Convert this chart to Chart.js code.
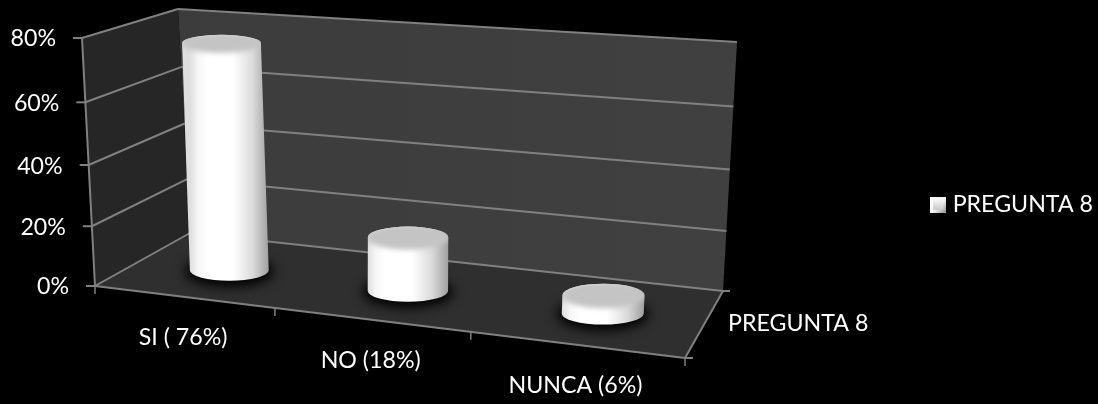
<!DOCTYPE html>
<html>
<head>
<meta charset="utf-8">
<style>
  html, body { margin: 0; padding: 0; background: #000; }
  canvas { display: block; }
</style>
<script src="https://cdn.jsdelivr.net/npm/chart.js@4/dist/chart.umd.min.js"></script>
</head>
<body>
<canvas id="grafico" width="1098" height="404"></canvas>
<script>
const categorias = ["SI ( 76%)", "NO (18%)", "NUNCA (6%)"];
const valores = [76, 18, 6];
const serie = "PREGUNTA 8";
const yMaximo = 80;
const yPaso = 20;

const FUENTE = "Lato, 'Open Sans', sans-serif";
const GRIS = "#808080";

// corners of the 3D box, front/back and bottom/top
const caja = {
  fi0: [95, 286], fd0: [685, 358], ti0: [190, 233], td0: [723, 291],
  fi1: [82, 38], fd1: [703, 83], ti1: [178, 9], td1: [737, 42]
};

function mezcla(a, b, t) {
  return [a[0] + (b[0] - a[0]) * t, a[1] + (b[1] - a[1]) * t];
}

// perspective squeeze along one axis
function perspectiva(t, k) {
  return t / (t + k * (1 - t));
}

// u = along the categories, v = depth, h = height (all 0..1)
function proyectar(u, v, h) {
  const pu = perspectiva(u, 1.14);
  const ph = perspectiva(h, 1.05);
  const abajo = mezcla(mezcla(caja.fi0, caja.fd0, pu), mezcla(caja.ti0, caja.td0, pu), v);
  const arriba = mezcla(mezcla(caja.fi1, caja.fd1, pu), mezcla(caja.ti1, caja.td1, pu), v);
  return mezcla(abajo, arriba, ph);
}

function linea(ctx, a, b, color, ancho) {
  ctx.strokeStyle = color || GRIS;
  ctx.lineWidth = ancho || 2;
  ctx.beginPath();
  ctx.moveTo(a[0], a[1]);
  ctx.lineTo(b[0], b[1]);
  ctx.stroke();
}

function poligono(ctx, puntos, relleno) {
  ctx.fillStyle = relleno;
  ctx.beginPath();
  puntos.forEach((p, i) => i ? ctx.lineTo(p[0], p[1]) : ctx.moveTo(p[0], p[1]));
  ctx.closePath();
  ctx.fill();
}

function dibujarCaja(chart) {
  const ctx = chart.ctx;
  const ys = chart.scales.y;
  const xs = chart.scales.x;
  ctx.save();

  // back wall, left wall, floor
  const fondo = ctx.createLinearGradient(178, 0, 737, 0);
  fondo.addColorStop(0, "#3c3c3c");
  fondo.addColorStop(1, "#404040");
  poligono(ctx, [caja.ti0, caja.td0, caja.td1, caja.ti1], fondo);
  poligono(ctx, [caja.fi0, caja.ti0, caja.ti1, caja.fi1], "#262626");
  poligono(ctx, [caja.fi0, caja.fd0, caja.td0, caja.ti0], "#2f2f2f");

  // gridlines follow the y axis ticks around both walls
  ctx.font = "23.2px " + FUENTE;
  ctx.textBaseline = "middle";
  ctx.textAlign = "right";
  ys.ticks.forEach((tick, i) => {
    const h = (ys.bottom - ys.getPixelForValue(tick.value)) / ys.height;
    const frente = proyectar(0, 0, h);
    const atras = proyectar(0, 1, h);
    const derecha = proyectar(1, 1, h);
    linea(ctx, frente, atras);
    linea(ctx, atras, derecha);
    linea(ctx, [frente[0] - 9, frente[1]], frente);
    ctx.fillStyle = "#fff";
    ctx.fillText(tick.label, frente[0] - 26, frente[1] + 1);
  });
  linea(ctx, caja.fi0, caja.fi1);

  // floor front and right edges with their tick marks
  linea(ctx, caja.fi0, caja.fd0);
  linea(ctx, caja.fd0, caja.td0);
  linea(ctx, caja.td0, [caja.td0[0] + 7, caja.td0[1]]);
  linea(ctx, caja.fd0, [caja.fd0[0] + 8, caja.fd0[1]]);

  const n = categorias.length;
  for (let i = 0; i <= n; i++) {
    const p = proyectar(i / n, 0, 0);
    linea(ctx, p, [p[0], p[1] + 8], GRIS, 1.5);
  }

  // category labels hang below the front edge
  ctx.textAlign = "center";
  ctx.fillStyle = "#fff";
  xs.ticks.forEach((tick, i) => {
    const px = xs.getPixelForValue(i);
    const p = proyectar((px - xs.left) / xs.width, 0, 0);
    ctx.fillText(tick.label, p[0], p[1] + 41);
  });

  // series name beside the depth axis
  const lado = proyectar(1, 0.5, 0);
  ctx.textAlign = "left";
  ctx.fillText(chart.data.datasets[0].label, lado[0] + 24, lado[1] - 1);
  ctx.restore();
}

function elipse(ctx, c, rx, ry) {
  ctx.beginPath();
  ctx.ellipse(c[0], c[1], rx, ry, 0, 0, Math.PI * 2);
}

function dibujarCilindro(chart, el) {
  const ctx = chart.ctx;
  const xs = chart.scales.x;
  const ys = chart.scales.y;
  const u = (el.x - xs.left) / xs.width;
  const d = el.width / xs.width / 2;
  const alto = (ys.bottom - el.y) / ys.height;

  // cylinders sit a touch right of and below mid depth
  const a = proyectar(u, 0.5, 0);
  const b = proyectar(u, 0.5, alto);
  const base = [a[0] + 3, a[1] + 1];
  const tapa = [b[0] + 3, b[1] + 1];
  // width grows gently towards the right
  const rx = (perspectiva(u + d, 1.03) - perspectiva(u - d, 1.03)) * 561 / 2;
  const ryBase = rx * 0.27;
  const ryTapa = rx * (0.28 - 0.08 * alto);

  // soft dark shadow on the floor
  ctx.save();
  ctx.filter = "blur(6px)";
  ctx.fillStyle = "#000";
  elipse(ctx, [base[0], base[1] + 1], rx + 5, ryBase + 5);
  ctx.fill();
  ctx.restore();

  // body
  const cuerpo = new Path2D();
  cuerpo.moveTo(tapa[0] - rx, tapa[1]);
  cuerpo.lineTo(base[0] - rx, base[1]);
  cuerpo.ellipse(base[0], base[1], rx, ryBase, 0, Math.PI, 0, true);
  cuerpo.lineTo(tapa[0] + rx, tapa[1]);
  cuerpo.ellipse(tapa[0], tapa[1], rx, ryTapa, 0, 0, Math.PI, true);
  cuerpo.closePath();

  const lados = ctx.createLinearGradient(base[0] - rx, 0, base[0] + rx, 0);
  lados.addColorStop(0, "#dedede");
  lados.addColorStop(0.1, "#f6f6f6");
  lados.addColorStop(0.22, "#ffffff");
  lados.addColorStop(0.55, "#ffffff");
  lados.addColorStop(0.8, "#dadada");
  lados.addColorStop(1, "#a0a0a0");
  ctx.fillStyle = lados;
  ctx.fill(cuerpo);

  // flat grey top melting into the rounded rim
  ctx.save();
  ctx.clip(cuerpo);
  ctx.filter = "blur(2.5px)";
  ctx.fillStyle = "#c4c4c4";
  elipse(ctx, tapa, rx + 2, ryTapa + 2);
  ctx.fill();
  ctx.restore();
}

// little bevelled square for the legend
function cuadroLeyenda() {
  const c = document.createElement("canvas");
  c.width = 16;
  c.height = 16;
  const g = c.getContext("2d");
  const grad = g.createLinearGradient(0, 0, 16, 16);
  grad.addColorStop(0, "#ffffff");
  grad.addColorStop(0.55, "#f2f2f2");
  grad.addColorStop(1, "#8c8c8c");
  g.fillStyle = grad;
  g.fillRect(0, 0, 16, 16);
  const centro = g.createLinearGradient(0, 3, 0, 13);
  centro.addColorStop(0, "#f4f4f4");
  centro.addColorStop(1, "#c8c8c8");
  g.fillStyle = centro;
  g.fillRect(3, 3, 10, 10);
  return c;
}

const caja3d = {
  id: "caja3d",
  beforeDatasetsDraw(chart) {
    dibujarCaja(chart);
  },
  beforeDatasetDraw(chart, args) {
    args.meta.data.forEach(el => dibujarCilindro(chart, el));
    return false; // cylinders replace the flat bars
  }
};

new Chart(document.getElementById("grafico"), {
  type: "bar",
  data: {
    labels: categorias,
    datasets: [{ label: serie, data: valores, backgroundColor: "#fff", barPercentage: 0.43, categoryPercentage: 1 }]
  },
  options: {
    responsive: false,
    animation: false,
    layout: { padding: { right: -5, top: 6 } },
    scales: {
      x: { display: false },
      y: {
        display: false,
        min: 0,
        max: yMaximo,
        ticks: { stepSize: yPaso, callback: v => v + "%" }
      }
    },
    plugins: {
      tooltip: { enabled: false },
      legend: {
        position: "right",
        labels: {
          color: "#fff",
          font: { family: FUENTE, size: 23.2 },
          usePointStyle: true,
          boxWidth: 6,
          padding: 6,
          generateLabels: chart => [{
            text: chart.data.datasets[0].label,
            pointStyle: cuadroLeyenda(),
            fontColor: "#fff",
            lineWidth: 0,
            datasetIndex: 0
          }]
        }
      }
    }
  },
  plugins: [caja3d]
});
</script>
</body>
</html>
